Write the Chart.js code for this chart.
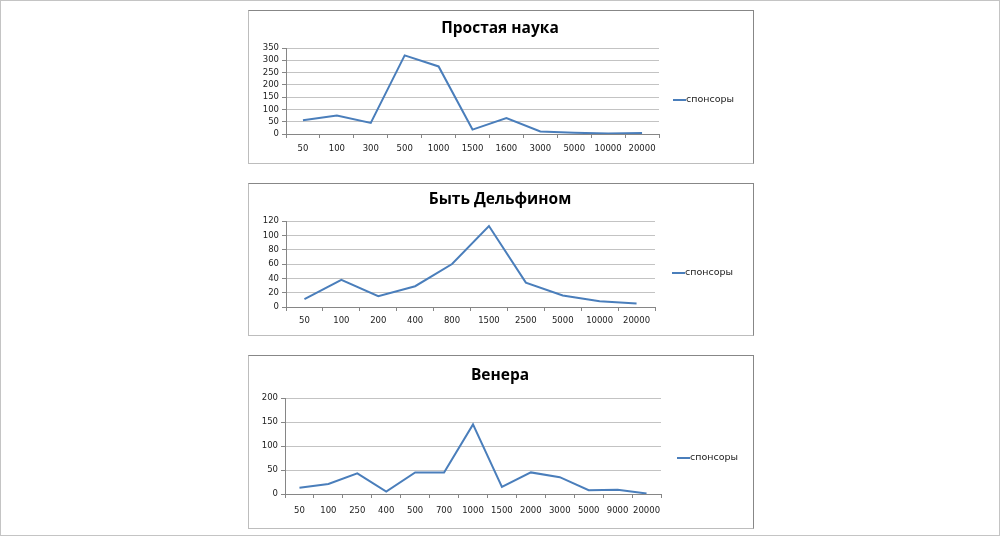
<!DOCTYPE html>
<html>
<head>
<meta charset="utf-8">
<script src="https://cdn.jsdelivr.net/npm/chart.js@4/dist/chart.umd.min.js"></script>
<style>
  html, body { margin: 0; padding: 0; background: #fff; }
  #page { position: absolute; left: 0; top: 0; width: 998px; height: 534px; border: 1px solid #c4c4c4; background: #fff; }
  .box { position: absolute; box-sizing: border-box; border-top: 1px solid #878787; border-right: 1px solid #878787; border-left: 1px solid #bdbdbd; border-bottom: 1px solid #bdbdbd; background: #fff; }
  .box canvas { position: absolute; left: 0; top: 0; }
</style>
</head>
<body>
<div id="page"></div>
<div class="box" style="left:248px; top:10px; width:506px; height:154px;"><canvas id="c1" width="504" height="152"></canvas></div>
<div class="box" style="left:248px; top:183px; width:506px; height:153px;"><canvas id="c2" width="504" height="151"></canvas></div>
<div class="box" style="left:248px; top:355px; width:506px; height:174px;"><canvas id="c3" width="504" height="172"></canvas></div>
<script>
// ---- data ----
const seriesName = 'спонсоры';

const title1 = 'Простая наука';
const cats1 = ['50','100','300','500','1000','1500','1600','3000','5000','10000','20000'];
const vals1 = [56, 75, 45, 320, 275, 18, 65, 10, 5, 2, 4];
const yMax1 = 350, yStep1 = 50;

const title2 = 'Быть Дельфином';
const cats2 = ['50','100','200','400','800','1500','2500','5000','10000','20000'];
const vals2 = [11, 38, 15, 29, 60, 113, 34, 16, 8, 5];
const yMax2 = 120, yStep2 = 20;

const title3 = 'Венера';
const cats3 = ['50','100','250','400','500','700','1000','1500','2000','3000','5000','9000','20000'];
const vals3 = [13, 21, 43, 5, 45, 45, 145, 15, 45, 35, 8, 9, 1];
const yMax3 = 200, yStep3 = 50;

// ---- drawing ----
const LINE_COLOR = '#4a7ebb';
const AXIS_COLOR = '#868686';
const GRID_COLOR = '#c3c3c3';
const TICK_FONT = { family: '"DejaVu Sans", Verdana, sans-serif', size: 8.5 };

const decorPlugin = {
  id: 'decor',
  afterDraw(chart, args, opts) {
    const ctx = chart.ctx;
    const ca = chart.chartArea;
    ctx.save();
    ctx.fillStyle = '#000';
    ctx.font = 'bold 15.5px "Open Sans", sans-serif';
    ctx.textAlign = 'center';
    ctx.textBaseline = 'middle';
    ctx.fillText(opts.title, chart.width / 2 - 1, opts.titleY);
    // legend
    const lx = ca.right + opts.legendDx;
    const ly = opts.legendY;
    ctx.strokeStyle = LINE_COLOR;
    ctx.lineWidth = 2;
    ctx.beginPath();
    ctx.moveTo(lx, ly);
    ctx.lineTo(lx + opts.legendLen, ly);
    ctx.stroke();
    ctx.font = '9.5px "DejaVu Sans", sans-serif';
    ctx.textAlign = 'left';
    ctx.fillStyle = '#222';
    ctx.fillText(chart.data.datasets[0].label, lx + opts.legendLen, ly);
    ctx.restore();
  }
};

function makeChart(id, cats, vals, yMax, yStep, cfg) {
  return new Chart(document.getElementById(id), {
    type: 'line',
    data: {
      labels: cats,
      datasets: [{
        label: seriesName,
        data: vals,
        borderColor: LINE_COLOR,
        backgroundColor: LINE_COLOR,
        borderWidth: 2,
        pointRadius: 0,
        tension: 0,
        fill: false
      }]
    },
    options: {
      responsive: false,
      animation: false,
      devicePixelRatio: 1,
      layout: { padding: { left: 0, top: cfg.top, right: cfg.right, bottom: 0 } },
      plugins: {
        legend: { display: false },
        title: { display: false },
        tooltip: { enabled: false },
        decor: { title: cfg.title, titleY: cfg.titleY, legendY: cfg.legendY, legendDx: cfg.legendDx, legendLen: 13 }
      },
      scales: {
        x: {
          offset: true,
          grid: { display: true, drawOnChartArea: false, drawTicks: true, offset: true, tickLength: 4, tickColor: AXIS_COLOR },
          border: { display: true, color: AXIS_COLOR, width: 1 },
          ticks: { color: '#222', font: TICK_FONT, padding: cfg.xPad, maxRotation: 0, autoSkip: false },
          afterFit(scale) { scale.height = cfg.xH; }
        },
        y: {
          min: 0, max: yMax,
          grid: { color: GRID_COLOR, lineWidth: 1, drawTicks: true, tickLength: 4, tickColor: AXIS_COLOR },
          border: { display: true, color: AXIS_COLOR, width: 1 },
          ticks: { stepSize: yStep, color: '#222', font: TICK_FONT, padding: 3, autoSkip: false },
          afterFit(scale) { scale.width = cfg.yW; }
        }
      }
    },
    plugins: [decorPlugin]
  });
}

makeChart('c1', cats1, vals1, yMax1, yStep1, { title: title1, titleY: 18, top: 37, right: 94, xH: 29, yW: 37, xPad: 6, legendY: 89, legendDx: 14 });
makeChart('c2', cats2, vals2, yMax2, yStep2, { title: title2, titleY: 16, top: 37, right: 98, xH: 28, yW: 37, xPad: 5, legendY: 89, legendDx: 17 });
makeChart('c3', cats3, vals3, yMax3, yStep3, { title: title3, titleY: 20, top: 42, right: 92, xH: 34, yW: 36, xPad: 8, legendY: 102, legendDx: 16 });
</script>
</body>
</html>
